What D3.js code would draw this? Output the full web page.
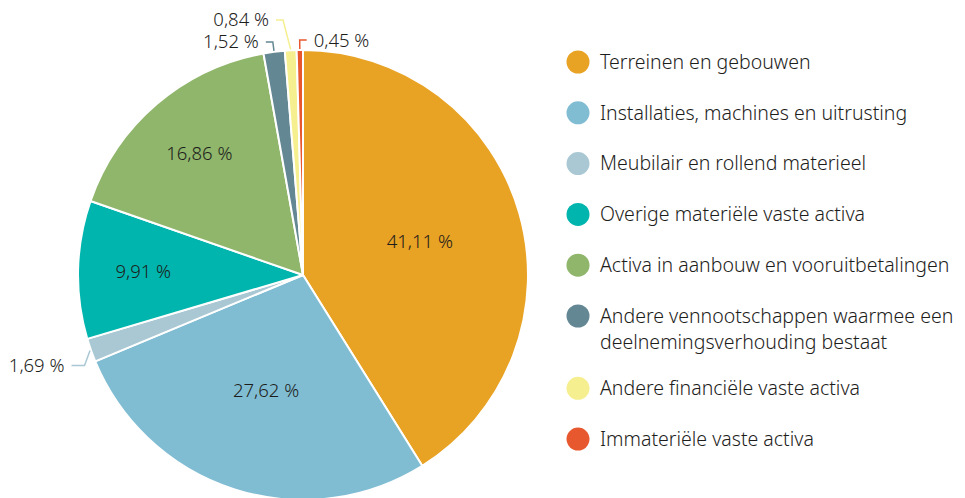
<!DOCTYPE html>
<html>
<head>
<meta charset="utf-8">
<script src="https://cdn.jsdelivr.net/npm/d3@7"></script>
<style>
  body { margin: 0; background: #fff; }
  svg text { font-family: "Noto Sans", sans-serif; fill: #1d1d1b; font-weight: 300; }
</style>
</head>
<body>
<svg id="chart" width="965" height="498"></svg>
<script>
// data
const categories = [
  "Terreinen en gebouwen",
  "Installaties, machines en uitrusting",
  "Meubilair en rollend materieel",
  "Overige materiële vaste activa",
  "Activa in aanbouw en vooruitbetalingen",
  "Andere vennootschappen waarmee een deelnemingsverhouding bestaat",
  "Andere financiële vaste activa",
  "Immateriële vaste activa"
];
const shares = [41.11, 27.62, 1.69, 9.91, 16.86, 1.52, 0.84, 0.45];
const colors = ["#e8a224", "#80bdd3", "#a9c8d3", "#00b5ad", "#8fb66b", "#648794", "#f6ef8f", "#e8582f"];

const svg = d3.select('#chart');
const cx = 303, cy = 275, R = 225;

const data = categories.map((c, i) => ({name: c, value: shares[i], color: colors[i]}));
const fmt = v => d3.format('.2f')(v).replace('.', ',') + ' %';

const pie = d3.pie().sort(null).value(d => d.value);
const arcs = pie(data);
const arc = d3.arc().innerRadius(0).outerRadius(R);

const g = svg.append('g').attr('transform', `translate(${cx},${cy})`);

g.selectAll('path.slice')
  .data(arcs)
  .enter()
  .append('path')
  .attr('class', 'slice')
  .attr('d', arc)
  .attr('fill', d => d.data.color)
  .attr('stroke', '#fff')
  .attr('stroke-width', 2)
  .attr('stroke-linejoin', 'round');

// labels inside the bigger slices
const inner = arcs.filter(d => d.data.value >= 5);
g.selectAll('text.inner')
  .data(inner)
  .enter()
  .append('text')
  .attr('class', 'inner')
  .attr('transform', d => {
    const r = d.data.value > 20 ? R * 0.54 : R * 0.71;
    const a = (d.startAngle + d.endAngle) / 2;
    return `translate(${r * Math.sin(a)},${-r * Math.cos(a)})`;
  })
  .attr('text-anchor', 'middle')
  .attr('dy', '0.35em')
  .attr('font-size', 18.5)
  .text(d => fmt(d.data.value));

// small slices get a label outside with a connector
const outer = arcs.filter(d => d.data.value < 5).map(d => {
  const a = (d.startAngle + d.endAngle) / 2;
  const ex = (R + 10) * Math.sin(a), ey = -(R + 10) * Math.cos(a);
  return {d, a, ex, ey, side: ex < -5 ? -1 : 1, len: 7};
});
// push overlapping labels apart, left side upwards
const left = outer.filter(o => o.side < 0 && o.ey < 0).sort((p, q) => q.ey - p.ey);
for (let i = 1; i < left.length; i++) {
  if (left[i - 1].ey - left[i].ey < 22) {
    left[i].ey = left[i - 1].ey - 22;
    left[i].ex = -left[i].ey * Math.tan(left[i].a) - 6;
  }
}
// left-side label below the centre sits a little lower
outer.filter(o => o.side < 0 && o.ey > 0).forEach(o => { o.ey += 12; o.ex += 3; o.len = 13; });

outer.forEach(o => {
  const sx = (R + 1) * Math.sin(o.a), sy = -(R + 1) * Math.cos(o.a);
  const hx = o.ex + o.side * o.len;
  g.append('path')
    .attr('d', `M${sx},${sy}L${o.ex},${o.ey}L${hx},${o.ey}`)
    .attr('fill', 'none')
    .attr('stroke', o.d.data.color)
    .attr('stroke-width', 1.5);
  g.append('text')
    .attr('x', hx + o.side * 7)
    .attr('y', o.ey)
    .attr('dy', '0.35em')
    .attr('text-anchor', o.side < 0 ? 'end' : 'start')
    .attr('font-size', 18.5)
    .text(fmt(o.d.data.value));
});

// legend
const legend = svg.append('g').attr('transform', 'translate(578,0)');
const maxW = 380, lineH = 26.5;
let y = 62;
data.forEach(d => {
  const item = legend.append('g');
  item.append('circle')
    .attr('cx', 0).attr('cy', y).attr('r', 11.5)
    .attr('fill', d.color);
  const t = item.append('text')
    .attr('x', 22).attr('y', y).attr('dy', '0.35em')
    .attr('font-size', 19.5);
  // simple word wrap
  const words = d.name.split(' ');
  let line = [], tspan = t.append('tspan').attr('x', 22), lines = 1;
  words.forEach(w => {
    line.push(w);
    tspan.text(line.join(' '));
    if (tspan.node().getComputedTextLength() > maxW && line.length > 1) {
      line.pop();
      tspan.text(line.join(' '));
      line = [w];
      tspan = t.append('tspan').attr('x', 22).attr('dy', lineH).text(w);
      lines++;
    }
  });
  y += 50.8 + (lines - 1) * 21.5;
});
</script>
</body>
</html>
